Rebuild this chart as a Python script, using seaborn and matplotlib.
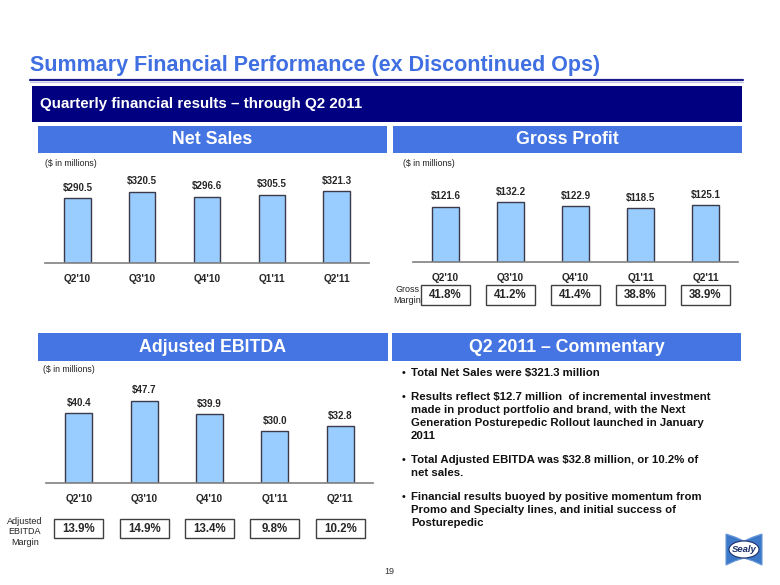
import matplotlib
matplotlib.use("Agg")
import matplotlib.pyplot as plt
import matplotlib.transforms as mtransforms
from matplotlib.patches import Rectangle, Polygon, Ellipse
from matplotlib.lines import Line2D
import seaborn as sns

# data
quarters = ["Q2'10", "Q3'10", "Q4'10", "Q1'11", "Q2'11"]
net_sales = [290.5, 320.5, 296.6, 305.5, 321.3]
gross_profit = [121.6, 132.2, 122.9, 118.5, 125.1]
gross_margin = ["41.8%", "41.2%", "41.4%", "38.8%", "38.9%"]
ebitda = [40.4, 47.7, 39.9, 30.0, 32.8]
ebitda_margin = ["13.9%", "14.9%", "13.4%", "9.8%", "10.2%"]

commentary = [
    ["Total Net Sales were $321.3 million"],
    ["Results reflect $12.7 million  of incremental investment",
     "made in product portfolio and brand, with the Next",
     "Generation Posturepedic Rollout launched in January",
     "2011"],
    ["Total Adjusted EBITDA was $32.8 million, or 10.2% of",
     "net sales."],
    ["Financial results buoyed by positive momentum from",
     "Promo and Specialty lines, and initial success of",
     "Posturepedic"],
]

sns.set_style("white")
plt.rcParams['font.family'] = ['Liberation Sans', 'DejaVu Sans']

W, H = 780, 585
BAR_FILL = '#99ccff'
BAR_EDGE = '#3a3a4a'
HEAD_BLUE = '#4574e3'
NAVY = '#000080'

fig = plt.figure(figsize=(7.8, 5.85), dpi=100)


def fx(px):
    return px / W


def fy(py):
    return 1 - py / H


def header(x0, x1, y0, y1, label, fc=HEAD_BLUE, size=12.8, ha='center', tx=None):
    fig.patches.append(Rectangle((fx(x0), fy(y1)), (x1 - x0) / W, (y1 - y0) / H,
                                 transform=fig.transFigure, fc=fc, ec='none'))
    if tx is None:
        tx = (x0 + x1) / 2
    fig.text(fx(tx), fy((y0 + y1) / 2), label, color='white', fontsize=size,
             fontweight='bold', ha=ha, va='center')


def bar_panel(x0, x1, base, top, values, ymax, margins=None, mbox=None):
    ax = fig.add_axes([fx(x0), fy(base), (x1 - x0) / W, (base - top) / H])
    sns.barplot(x=quarters, y=values, ax=ax, color=BAR_FILL, edgecolor=BAR_EDGE,
                linewidth=1, width=0.41, saturation=1)
    ax.set_xlim(-0.5, 4.5)
    ax.set_ylim(0, ymax)
    ax.set_xlabel("")
    ax.set_ylabel("")
    ax.set_yticks([])
    for s in ['top', 'left', 'right']:
        ax.spines[s].set_visible(False)
    ax.spines['bottom'].set_color('#808080')
    ax.spines['bottom'].set_linewidth(1.2)
    ax.set_xticks(range(5))
    ax.set_xticklabels(quarters, fontsize=7.3, fontweight='bold')
    ax.tick_params(axis='x', which='major', length=0, pad=8)
    ax.set_xticks([i - 0.5 for i in range(6)], minor=True)
    ax.tick_params(axis='x', which='minor', length=3.5, width=1, color='#808080', direction='out')
    ax.bar_label(ax.containers[0], labels=[f"${v:.1f}" for v in values], padding=4,
                 fontsize=7, fontweight='bold')
    if margins is not None:
        b0, b1 = mbox
        trans = mtransforms.blended_transform_factory(ax.transData, fig.transFigure)
        for i, m in enumerate(margins):
            ax.add_patch(Rectangle((i - 0.375, fy(b1)), 0.75, (b1 - b0) / H, transform=trans,
                                   fill=False, ec='#404040', lw=1, clip_on=False))
            ax.text(i, fy((b0 + b1) / 2), m, transform=trans, ha='center', va='center',
                    fontsize=8.3, fontweight='bold', clip_on=False)
    return ax


# title
fig.text(fx(30), fy(66), "Summary Financial Performance (ex Discontinued Ops)",
         color='#3f6fe0', fontsize=15.5, fontweight='bold', ha='left', va='center')
fig.add_artist(Line2D([fx(30), fx(743)], [fy(80), fy(80)], color='#1a1a8a', lw=1.6))
fig.add_artist(Line2D([fx(30), fx(743)], [fy(82), fy(82)], color='#c0c4e8', lw=0.8))

header(32, 742, 86, 121.5, "Quarterly financial results \u2013 through Q2 2011",
       fc=NAVY, size=10.9, ha='left', tx=40)

header(38, 387, 126, 153, "Net Sales")
header(393, 742, 126, 153, "Gross Profit")
header(38, 388, 333, 361, "Adjusted EBITDA")
header(392, 741, 333, 361, "Q2 2011 \u2013 Commentary")

for x, y in [(45, 163), (403, 163), (43, 369)]:
    fig.text(fx(x), fy(y), "($ in millions)", fontsize=6.3, color='#222222', va='center')

# charts
bar_panel(45, 369, 263, 175, net_sales, 88 / 0.223)
bar_panel(413, 738, 262, 180, gross_profit, 82 / 0.453, gross_margin, (285, 305))
bar_panel(46, 373, 483, 390, ebitda, 93 / 1.725, ebitda_margin, (519, 538))

fig.text(fx(407), fy(295), "Gross\nMargin", fontsize=6.5, ha='center', va='center',
         linespacing=1.15, color='#222222')
fig.text(fx(25), fy(532), "Adjusted\nEBITDA\nMargin", fontsize=6.5, ha='center', va='center',
         linespacing=1.15, color='#222222')

# commentary bullets
y = 373
for para in commentary:
    fig.text(fx(402), fy(y), "\u2022", fontsize=7.5, fontweight='bold', va='center', color='#111111')
    for line in para:
        fig.text(fx(411), fy(y), line, fontsize=8.2, fontweight='bold', va='center', color='#111111')
        y += 13
    y += 11

# page number
fig.text(fx(389), fy(571), "19", fontsize=6.5, ha='center', va='center', color='#333333')

# Sealy logo (approximate)
logo = [(726, 534), (735, 537), (744, 541), (753, 537), (762, 534),
        (762, 565), (753, 561), (744, 558), (735, 561), (726, 565)]
fig.patches.append(Polygon([(fx(a), fy(b)) for a, b in logo], closed=True,
                           transform=fig.transFigure, fc='#3d78c8', ec='#6a9ad8', lw=0.8))
fig.patches.append(Ellipse((fx(744), fy(549.5)), 30 / W, 17 / H, transform=fig.transFigure,
                           fc='white', ec='#1b2f6b', lw=0.8))
fig.text(fx(744), fy(549.5), "Sealy", fontsize=6.8, fontweight='bold', style='italic',
         ha='center', va='center', color='#1b2f6b')

fig.savefig("out.png", dpi=100)
